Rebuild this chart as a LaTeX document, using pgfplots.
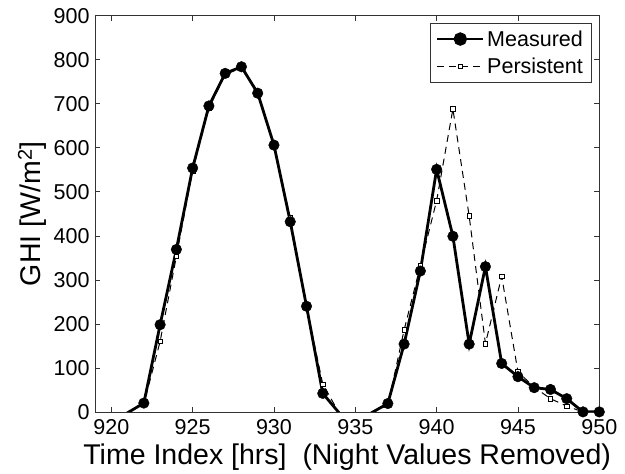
\documentclass[border=0pt]{standalone}
\usepackage{fontspec}
\setmainfont{Liberation Sans}
\usepackage{pgfplots}
\pgfplotsset{compat=1.18}

% GHI series; night hours lie below zero and are clipped away
\pgfplotstableread{
x y
920 -100
921 -2
922 20
923 198
924 369
925 554
926 695
927 769
928 784
929 724
930 606
931 432
932 240
933 42
934 -2
935 -100
936 -2
937 19
938 154
939 320
940 551
941 399
942 154
943 330
944 110
945 80
946 55
947 51
948 30
949 0
950 0
}\measured

\pgfplotstableread{
x y
920 -100
921 -2
922 18
923 160
924 353
925 548
926 690
927 766
928 782
929 728
930 603
931 442
932 238
933 63
934 -2
935 -100
936 -2
937 15
938 186
939 332
940 480
941 688
942 445
943 155
944 308
945 91
946 56
947 30
948 13
949 0
950 0
}\persistent

\begin{document}
\begin{tikzpicture}
\begin{axis}[name=ax, scale only axis, width=504pt, height=396pt,
  xmin=919, xmax=950, ymin=0, ymax=900,
  xtick={920,925,...,950}, ytick={0,100,...,900},
  tick align=inside, major tick length=5pt,
  axis line style={black!80, line width=0.6pt},
  every tick/.style={black!80, line width=0.6pt},
  tick label style={font=\fontsize{21.5}{24}\selectfont},
  xticklabel style={yshift=-4pt},
  yticklabel style={xshift=-2pt},
  /pgf/number format/assume math mode=true,
  /pgf/number format/1000 sep={},
  xlabel={Time Index [hrs]\ \ (Night Values Removed)},
  ylabel={GHI [W/m\textsuperscript{2}]},
  label style={font=\fontsize{28.5}{32}\selectfont},
  xlabel style={yshift=-2pt},
  legend cell align=left,
  legend style={at={(1,1)}, anchor=north east, xshift=-7.6pt, yshift=-7pt,
    draw=black!80, line width=0.6pt, font=\fontsize{21.5}{24}\selectfont,
    inner xsep=6pt, inner ysep=5pt, row sep=5pt,
    nodes={inner sep=2.5pt}},
  legend image code/.code={
    \draw[#1, mark repeat=2, mark phase=2] plot coordinates {(0pt,0pt) (23pt,0pt) (46pt,0pt)};},
]
\addplot[black, line width=1pt, dash pattern=on 7pt off 5pt, forget plot] table {\persistent};
\addplot[black, only marks, mark=square*, mark size=2.3pt, mark options={fill=white, line width=0.6pt, solid}, restrict y to domain=0:1000, forget plot] table {\persistent};
\addplot[black, line width=2.8pt, forget plot] table {\measured};
\addplot[black, only marks, mark=*, mark size=5.3pt, restrict y to domain=0:1000, forget plot] table {\measured};
\addlegendimage{black, line width=2.8pt, mark=*, mark size=5.3pt}
\addlegendentry{Measured}
\addlegendimage{black, line width=1pt, dash pattern=on 7pt off 5pt, mark=square*, mark size=2.3pt, mark options={fill=white, line width=0.6pt, solid}}
\addlegendentry{Persistent}
\end{axis}
\path (ax.south west) ++(-95pt,-58.3pt);
\path (ax.north east) ++(25.7pt,15.7pt);
\end{tikzpicture}
\end{document}
